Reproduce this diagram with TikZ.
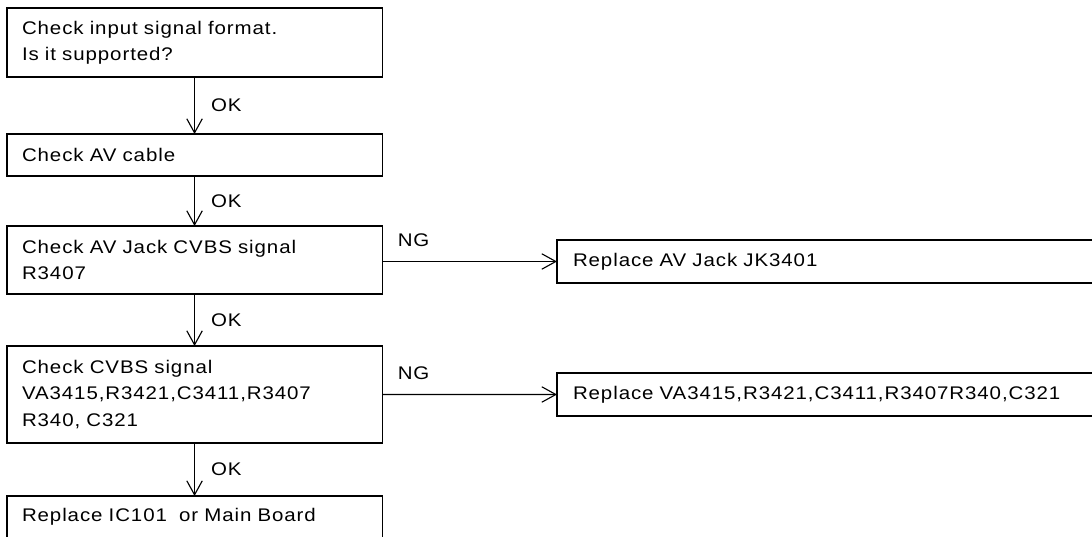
\documentclass[tikz,border=0pt]{standalone}
\usepackage{fontspec}
\setmainfont{Liberation Sans}[FakeStretch=1.12, LetterSpace=5]
\usetikzlibrary{arrows.meta,positioning}

\begin{document}
\begin{tikzpicture}[
  x=0.025cm, y=-0.025cm,
  box/.style={draw, line width=0.8pt, anchor=north west, align=left,
              inner xsep=0.375cm, inner ysep=0pt, outer sep=0pt,
              text width=8.625cm, minimum width=9.375cm,
              font=\fontsize{13}{18.8}\selectfont},
  wide/.style={box, inner xsep=0.4cm, text width=13.2cm, minimum width=14cm},
  arrow/.style={-{Straight Barb[length=10pt,width=11pt,line width=0.8pt]}, line width=0.8pt},
  lbl/.style={inner sep=0pt, font=\fontsize{13}{14}\selectfont}
]
\useasboundingbox (0,0) rectangle (1092,537);
\node[box, minimum height=1.725cm] (format) at (7,8)   {Check input signal format.\\Is it supported?};
\node[box, minimum height=1.05cm]  (cable)  at (7,134) {Check AV cable};
\node[box, minimum height=1.7cm]   (jack)   at (7,226) {Check AV Jack CVBS signal\\R3407};
\node[box, minimum height=2.425cm] (cvbs)   at (7,346) {Check CVBS signal\\VA3415,R3421,C3411,R3407\\R340, C321};
\node[box, minimum height=1.05cm]  (board)  at (7,496) {Replace IC101~~or Main Board};
\node[wide, minimum height=1.075cm] (repjack) at (557,240) {Replace AV Jack JK3401};
\node[wide, minimum height=1.075cm] (repparts) at (557,373) {Replace VA3415,R3421,C3411,R3407R340,C321};
% OK path
\draw[arrow] (format) -- node[lbl, right=0.4cm] {OK} (cable);
\draw[arrow] (cable)  -- node[lbl, right=0.4cm] {OK} (jack);
\draw[arrow] (jack)   -- node[lbl, right=0.4cm] {OK} (cvbs);
\draw[arrow] (cvbs)   -- node[lbl, right=0.4cm] {OK} (board);
% NG path
\draw[arrow] (jack.east |- repjack.west) -- node[lbl, pos=0.18, above=0.35cm] {NG} (repjack.west);
\draw[arrow] (cvbs.east) -- node[lbl, pos=0.18, above=0.35cm] {NG} (repparts.west);
\end{tikzpicture}
\end{document}
